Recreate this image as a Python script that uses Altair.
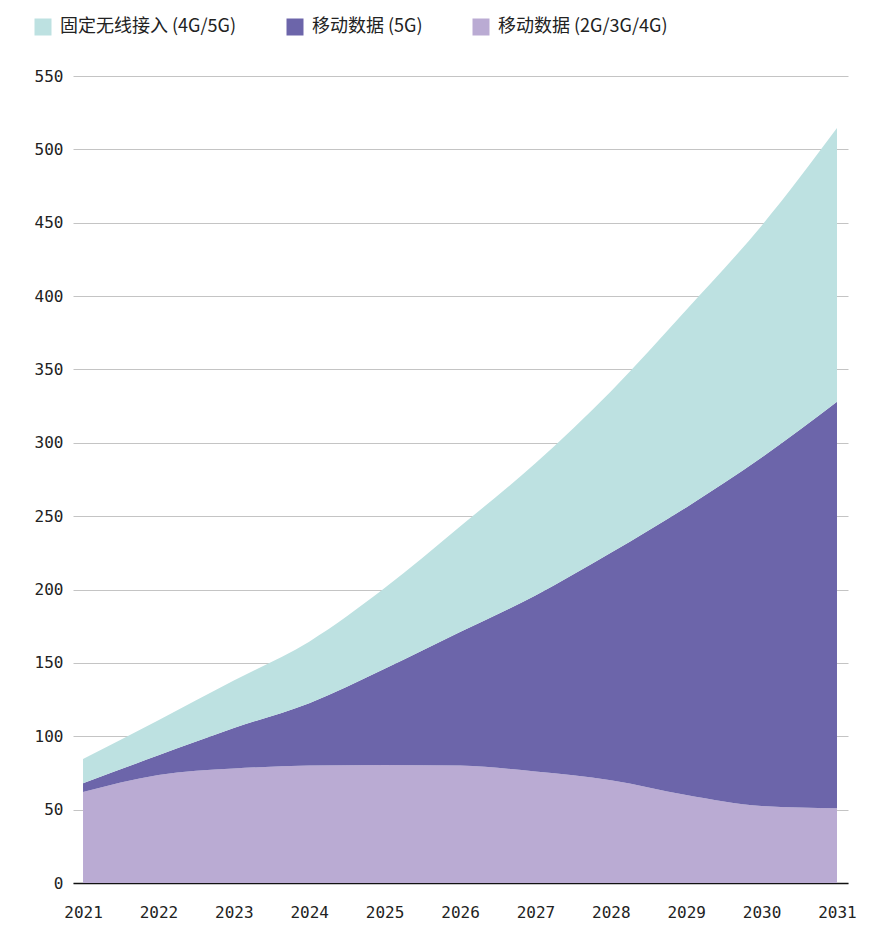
import altair as alt
import pandas as pd

years = [2021, 2022, 2023, 2024, 2025, 2026, 2027, 2028, 2029, 2030, 2031]
# cumulative tops
legacy = [62, 73.6, 78, 80, 80.5, 80, 76, 70, 60, 52.5, 51]
top_5g = [68, 87, 105.6, 122.5, 146, 171, 196, 225, 256, 290, 328]
top_fwa = [84.5, 111, 138, 164.5, 201, 243, 286, 335, 390.5, 448, 514.5]

series = ["固定无线接入 (4G/5G)", "移动数据 (5G)", "移动数据 (2G/3G/4G)"]
colors = ["#bde1e1", "#6c65aa", "#baabd3"]

rows = []
for i, y in enumerate(years):
    v_leg = legacy[i]
    v_5g = top_5g[i] - legacy[i]
    v_fwa = top_fwa[i] - top_5g[i]
    rows.append({"year": y, "series": series[2], "value": v_leg, "rank": 0})
    rows.append({"year": y, "series": series[1], "value": v_5g, "rank": 1})
    rows.append({"year": y, "series": series[0], "value": v_fwa, "rank": 2})
df = pd.DataFrame(rows)

mono = "DejaVu Sans Mono"
cjk = "Noto Sans CJK SC"

chart = alt.Chart(df).mark_area(interpolate="monotone").encode(
    x=alt.X("year:Q",
            scale=alt.Scale(domain=[2020.867, 2031.146], nice=False, zero=False),
            axis=alt.Axis(values=years, format="d", grid=False, ticks=False,
                          domainColor="#111", domainWidth=1.5,
                          labelFont=mono, labelFontSize=16, labelColor="#222",
                          labelPadding=21, title=None, labelFlush=False)),
    y=alt.Y("value:Q", stack="zero",
            scale=alt.Scale(domain=[0, 550], nice=False),
            axis=alt.Axis(values=list(range(0, 551, 50)), grid=True, ticks=False,
                          domain=False, gridColor="#c4c4c4", gridWidth=1,
                          labelFont=mono, labelFontSize=16, labelColor="#222",
                          labelPadding=10, title=None)),
    color=alt.Color("series:N",
                    scale=alt.Scale(domain=series, range=colors),
                    sort=series,
                    legend=alt.Legend(orient="none", legendX=-39, legendY=-58,
                                      direction="horizontal", title=None,
                                      symbolType="square", symbolSize=289,
                                      symbolStrokeWidth=0, symbolOpacity=1,
                                      labelFont=cjk, labelFontSize=18,
                                      labelColor="#222", labelOffset=8,
                                      labelLimit=0, columnPadding=49)),
    order=alt.Order("rank:Q", sort="ascending"),
).properties(
    width=775, height=807,
    padding={"left": 65, "top": 68, "right": 22, "bottom": 54},
    autosize=alt.AutoSizeParams(type="none"),
).configure_view(stroke=None)

chart.save("out.html", embed_options={"renderer": "svg", "actions": False})
